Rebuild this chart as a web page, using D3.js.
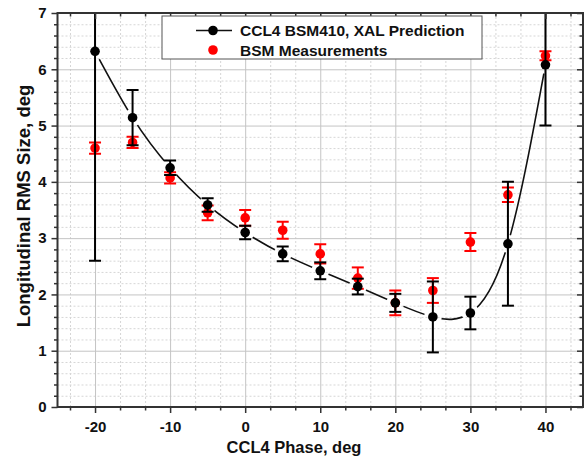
<!DOCTYPE html>
<html lang="en">
<head>
    <meta charset="UTF-8">
    <title>CCL4 phase scan</title>
    <script src="https://d3js.org/d3.v7.min.js"></script>
    <style>
    html, body {
        margin: 0;
        padding: 0;
        background: #fff;
    }
    text {
        font-family: "Liberation Sans", Arial, sans-serif;
        font-weight: bold;
    }
    .grid line {
        stroke: #c4c4c4;
        stroke-width: 1;
    }
    .grid.minor line {
        stroke: #d6d6d6;
        stroke-dasharray: 2,2;
    }
    .grid path {
        display: none;
    }
    .axis path {
        display: none;
    }
    .axis line {
        stroke: #333;
        stroke-width: 1.5;
    }
    </style>
</head>
<body>
<div id="chart"></div>
<script>

    // data
    var phases = [-20, -15, -10, -5, 0, 5, 10, 15, 20, 25, 30, 35, 40];
    var xalSize = [6.32, 5.14, 4.25, 3.59, 3.10, 2.72, 2.42, 2.14, 1.85, 1.60, 1.67, 2.90, 6.08];
    var xalErr  = [3.72, 0.49, 0.13, 0.12, 0.12, 0.13, 0.15, 0.14, 0.16, 0.63, 0.29, 1.10, 1.08];
    var bsmSize = [4.60, 4.70, 4.07, 3.45, 3.36, 3.14, 2.72, 2.29, 1.85, 2.07, 2.93, 3.77, 6.24];
    var bsmErr  = [0.10, 0.10, 0.10, 0.13, 0.14, 0.15, 0.17, 0.19, 0.22, 0.22, 0.16, 0.13, 0.08];

    var xTicks = [-20, -10, 0, 10, 20, 30, 40];
    var yTicks = [0, 1, 2, 3, 4, 5, 6, 7];
    var legendLabels = ["CCL4 BSM410, XAL Prediction", "BSM Measurements"];
    var xTitle = "CCL4 Phase, deg";
    var yTitle = "Longitudinal RMS Size, deg";

    var W = 586, H = 462;
    var pLeft = 57.5, pRight = 583, pTop = 13, pBottom = 407;

    var x = d3.scaleLinear().domain([-25, 45]).range([pLeft, pRight]);
    var y = d3.scaleLinear().domain([0, 7]).range([pBottom, pTop]);
    var plain = function(d){ return String(d); };   // keep ascii hyphen

    // minor ticks: 2 between x majors, 4 between y majors
    var xMinor = [];
    for (var m = -30; m <= 40; m += 10) {
        xMinor.push(m + 10 / 3, m + 20 / 3);
    }
    xMinor = xMinor.filter(function(d){ return d > -25 && d < 45; });
    var yMinor = d3.range(0, 7.001, 0.2).filter(function(d){
        return Math.abs(d - Math.round(d)) > 0.01;
    });

    var svg = d3.select("#chart").append("svg")
        .attr("width", W)
        .attr("height", H);

    var defs = svg.append("defs");
    defs.append("clipPath").attr("id", "plotClip")
        .append("rect")
        .attr("x", pLeft).attr("y", pTop)
        .attr("width", pRight - pLeft).attr("height", pBottom - pTop);

    // mask that opens gaps in the curve round every marker
    var mask = defs.append("mask").attr("id", "gapMask")
        .attr("maskUnits", "userSpaceOnUse")
        .attr("x", 0).attr("y", 0).attr("width", W).attr("height", H);
    mask.append("rect").attr("width", W).attr("height", H).attr("fill", "#fff");
    mask.selectAll("circle").data(phases).enter().append("circle")
        .attr("cx", function(d){ return x(d); })
        .attr("cy", function(d, i){ return y(xalSize[i]); })
        .attr("r", 9)
        .attr("fill", "#000");

    // grid
    svg.append("g").attr("class", "grid minor")
        .attr("transform", "translate(0," + pBottom + ")")
        .call(d3.axisBottom(x).tickValues(xMinor).tickSize(-(pBottom - pTop)).tickFormat(""));
    svg.append("g").attr("class", "grid minor")
        .attr("transform", "translate(" + pLeft + ",0)")
        .call(d3.axisLeft(y).tickValues(yMinor).tickSize(-(pRight - pLeft)).tickFormat(""));
    svg.append("g").attr("class", "grid")
        .attr("transform", "translate(0," + pBottom + ")")
        .call(d3.axisBottom(x).tickValues(xTicks).tickSize(-(pBottom - pTop)).tickFormat(""));
    svg.append("g").attr("class", "grid")
        .attr("transform", "translate(" + pLeft + ",0)")
        .call(d3.axisLeft(y).tickValues(yTicks).tickSize(-(pRight - pLeft)).tickFormat(""));

    var plot = svg.append("g").attr("clip-path", "url(#plotClip)");

    // spline through prediction points
    var pts = phases.map(function(d, i){ return [x(d), y(xalSize[i])]; });
    plot.append("path")
        .attr("d", d3.line().curve(d3.curveNatural)(pts))
        .attr("fill", "none")
        .attr("stroke", "#111")
        .attr("stroke-width", 1.6)
        .attr("mask", "url(#gapMask)");

    function errorBars(g, vals, errs, color) {
        var cap = 6;
        phases.forEach(function(p, i){
            var cx = x(p), y0 = y(vals[i] - errs[i]), y1 = y(vals[i] + errs[i]);
            g.append("line")
                .attr("x1", cx).attr("x2", cx).attr("y1", y0).attr("y2", y1)
                .attr("stroke", color).attr("stroke-width", 2);
            [y0, y1].forEach(function(yy){
                g.append("line")
                    .attr("x1", cx - cap).attr("x2", cx + cap).attr("y1", yy).attr("y2", yy)
                    .attr("stroke", color).attr("stroke-width", 2);
            });
        });
        g.selectAll("circle.pt").data(vals).enter().append("circle")
            .attr("class", "pt")
            .attr("cx", function(d, i){ return x(phases[i]); })
            .attr("cy", function(d){ return y(d); })
            .attr("r", 4.8)
            .attr("fill", color);
    }

    errorBars(plot.append("g"), bsmSize, bsmErr, "#ff0000");
    errorBars(plot.append("g"), xalSize, xalErr, "#000");

    // axes (left/bottom outward, top/right inward)
    function axisGroup(axis, tx, ty) {
        return svg.append("g").attr("class", "axis")
            .attr("transform", "translate(" + tx + "," + ty + ")")
            .call(axis);
    }
    axisGroup(d3.axisBottom(x).tickValues(xTicks).tickSize(6).tickPadding(8).tickFormat(plain), 0, pBottom)
        .selectAll("text").style("font-size", "15px").attr("fill", "#111");
    axisGroup(d3.axisBottom(x).tickValues(xMinor).tickSize(3.5).tickFormat(""), 0, pBottom);
    axisGroup(d3.axisLeft(y).tickValues(yTicks).tickSize(6).tickPadding(5).tickFormat(plain), pLeft, 0)
        .selectAll("text").style("font-size", "15px").attr("fill", "#111");
    axisGroup(d3.axisLeft(y).tickValues(yMinor).tickSize(3.5).tickFormat(""), pLeft, 0);
    axisGroup(d3.axisBottom(x).tickValues(xTicks).tickSize(6).tickFormat(""), 0, pTop);
    axisGroup(d3.axisBottom(x).tickValues(xMinor).tickSize(3.5).tickFormat(""), 0, pTop);
    axisGroup(d3.axisLeft(y).tickValues(yTicks).tickSize(6).tickFormat(""), pRight, 0);
    axisGroup(d3.axisLeft(y).tickValues(yMinor).tickSize(3.5).tickFormat(""), pRight, 0);

    svg.append("rect")
        .attr("x", pLeft).attr("y", pTop)
        .attr("width", pRight - pLeft).attr("height", pBottom - pTop)
        .attr("fill", "none")
        .attr("stroke", "#333")
        .attr("stroke-width", 2);

    // titles
    svg.append("text")
        .attr("x", 294).attr("y", 453)
        .attr("text-anchor", "middle")
        .style("font-size", "16.5px")
        .attr("fill", "#111")
        .text(xTitle);
    svg.append("text")
        .attr("transform", "translate(29.5," + 206 + ") rotate(-90)")
        .attr("text-anchor", "middle")
        .style("font-size", "18.5px")
        .attr("fill", "#111")
        .text(yTitle);

    // legend
    var lg = svg.append("g").attr("transform", "translate(162,16)");
    lg.append("rect")
        .attr("width", 320).attr("height", 43)
        .attr("fill", "#fff")
        .attr("stroke", "#555")
        .attr("stroke-width", 1);
    lg.append("line")
        .attr("x1", 34).attr("x2", 70).attr("y1", 14.5).attr("y2", 14.5)
        .attr("stroke", "#111").attr("stroke-width", 1.6);
    lg.append("circle").attr("cx", 51).attr("cy", 14.5).attr("r", 4.8).attr("fill", "#000");
    lg.append("circle").attr("cx", 51).attr("cy", 34).attr("r", 4.8).attr("fill", "#ff0000");
    lg.selectAll("text.lab").data(legendLabels).enter().append("text")
        .attr("class", "lab")
        .attr("x", 78)
        .attr("y", function(d, i){ return 20 + i * 19.5; })
        .style("font-size", "15.5px")
        .attr("fill", "#111")
        .text(function(d){ return d; });

</script>
</body>
</html>
